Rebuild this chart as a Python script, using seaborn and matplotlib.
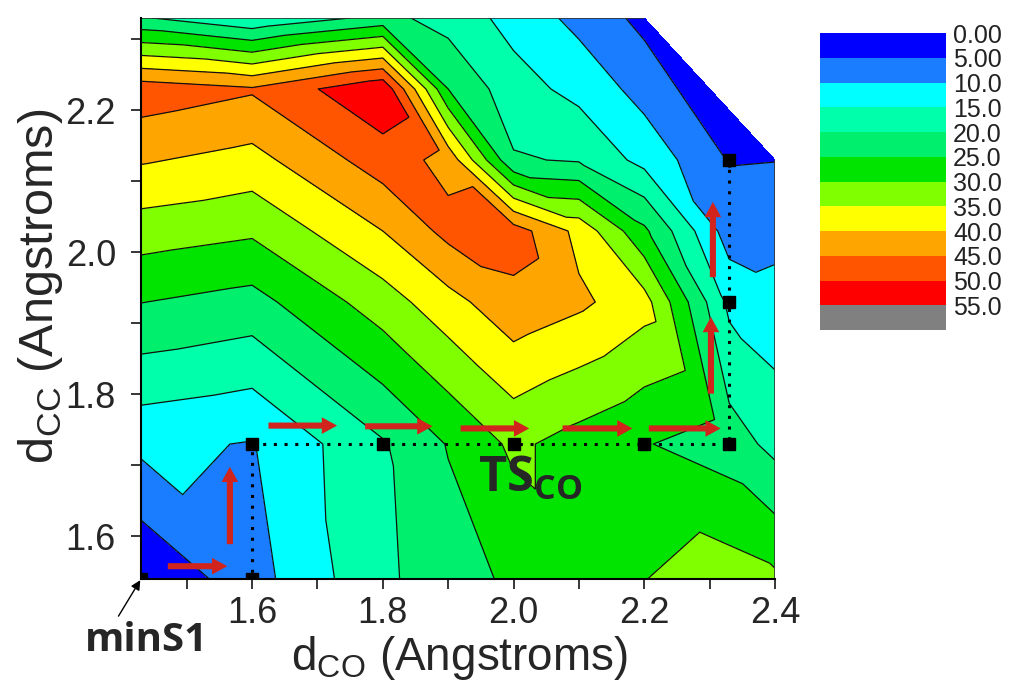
import numpy as np
import matplotlib
matplotlib.use("Agg")
import matplotlib.pyplot as plt
import matplotlib.tri as mtri
from matplotlib.patches import FancyArrowPatch
from matplotlib.collections import LineCollection
from matplotlib.ticker import MultipleLocator, FormatStrFormatter
import seaborn as sns

# scan grid (Angstroms)
d_co = [1.43, 1.6, 1.8, 1.9, 2.0, 2.1, 2.2, 2.33, 2.4]
d_cc = [1.54, 1.73, 1.93, 2.03, 2.13, 2.23, 2.33]

# relative energy, one row per d_cc value (bottom to top), nan = not computed
energy = [
    [0.2, 8.0, 19.1, 22.6, 26.0, 28.0, 29.9, 32.5, 31.0],
    [11.2, 9.7, 19.5, 25.3, 31.0, 28.0, 25.3, 22.5, 18.5],
    [25.1, 23.2, 32.6, 38.2, 43.5, 41.0, 37.0, 13.8, 11.8],
    [32.5, 30.8, 40.0, 46.5, 47.5, 38.5, 26.0, 7.5, 8.4],
    [40.5, 38.3, 47.5, 43.5, 20.5, 19.5, 13.4, 4.7, 4.9],
    [48.0, 45.6, 54.3, 25.0, 17.0, 13.5, 8.1, np.nan, np.nan],
    [20.5, 15.5, 21.5, 18.0, 13.3, 8.5, 3.6, np.nan, np.nan],
]

levels = [0, 5, 10, 15, 20, 25, 30, 35, 40, 45, 50, 55, 60]
band_colors = ["#0000ff", "#1a7cff", "#00ffff", "#00ffaa", "#00f06e", "#00e400",
               "#80ff00", "#ffff00", "#ffa500", "#ff5500", "#ff0000", "#808080"]

# reaction path
path_co = [1.43, 1.6, 1.6, 1.8, 2.0, 2.2, 2.33, 2.33, 2.33]
path_cc = [1.54, 1.54, 1.73, 1.73, 1.73, 1.73, 1.73, 1.93, 2.13]

# red arrows along the path: (start_co, start_cc, end_co, end_cc)
arrows = [
    (1.471, 1.558, 1.562, 1.558),
    (1.566, 1.589, 1.566, 1.698),
    (1.625, 1.756, 1.730, 1.756),
    (1.773, 1.755, 1.876, 1.755),
    (1.919, 1.752, 2.024, 1.752),
    (2.075, 1.752, 2.182, 1.752),
    (2.207, 1.752, 2.317, 1.752),
    (2.302, 1.801, 2.302, 1.909),
    (2.305, 1.965, 2.305, 2.071),
]

sns.set_style("ticks")
plt.rcParams["font.family"] = ["Liberation Sans", "DejaVu Sans"]
plt.rcParams["mathtext.fontset"] = "custom"
plt.rcParams["mathtext.rm"] = "Liberation Sans"
plt.rcParams["mathtext.bf"] = "Open Sans:bold"

X, Y = np.meshgrid(d_co, d_cc)
Z = np.array(energy)
x, y, z = X.ravel(), Y.ravel(), Z.ravel()
nx, ny = len(d_co), len(d_cc)


def idx(i, j):
    return j * nx + i


tris = []
for j in range(ny - 1):
    for i in range(nx - 1):
        bl, br, tl, tr = idx(i, j), idx(i + 1, j), idx(i, j + 1), idx(i + 1, j + 1)
        ok = [np.isfinite(z[k]) for k in (bl, br, tl, tr)]
        if all(ok):
            tris += [[bl, br, tl], [br, tr, tl]]
        elif ok[0] and ok[1] and ok[2]:
            tris.append([bl, br, tl])
# close the cut-off corner (convex hull)
tris.append([idx(6, 6), idx(6, 5), idx(7, 4)])
tris.append([idx(6, 6), idx(7, 4), idx(8, 4)])
triang = mtri.Triangulation(x, y, np.array(tris))

fig = plt.figure(figsize=(10.1, 6.91), dpi=100)
ax = fig.add_axes([0.1396, 0.1621, 0.6277, 0.8119])

cs = ax.tricontourf(triang, z, levels=levels, colors=band_colors)
ax.tricontour(triang, z, levels=levels[1:-1], colors="#111111", linewidths=0.9)

# outline of the computed region (straight sides only)
segs = []
for t, nb in zip(triang.triangles, triang.neighbors):
    for k in range(3):
        if nb[k] == -1:
            a, b = t[k], t[(k + 1) % 3]
            if x[a] == x[b] or y[a] == y[b]:
                segs.append([(x[a], y[a]), (x[b], y[b])])
ax.add_collection(LineCollection(segs, colors="#333333", linewidths=1.2))

ax.plot(path_co, path_cc, color="black", lw=2.2, linestyle=(0, (1, 2.5)))
ax.plot(path_co, path_cc, linestyle="none", marker="s", ms=9, color="black")

for x0, y0, x1, y1 in arrows:
    ax.add_patch(FancyArrowPatch((x0, y0), (x1, y1),
                                 arrowstyle="simple,head_length=0.55,head_width=0.6,tail_width=0.22",
                                 mutation_scale=20, color="#d0241c", lw=0,
                                 shrinkA=0, shrinkB=0, zorder=5))

ax.text(1.945, 1.663, r"TS$_{\mathbf{CO}}$", fontsize=35, fontweight="bold",
        family="Open Sans", ha="left", va="baseline", zorder=6)

ax.annotate("minS1", xy=(d_co[0], d_cc[0]), xytext=(4, -44), textcoords="offset points",
            fontsize=29, fontweight="bold", family="Open Sans", ha="center", va="center",
            annotation_clip=False,
            arrowprops=dict(arrowstyle="-|>", color="black", lw=1, relpos=(0.25, 1.0),
                            shrinkA=1, shrinkB=1, mutation_scale=14))

ax.set_xlim(min(d_co), max(d_co))
ax.set_ylim(min(d_cc), max(d_cc))
ax.xaxis.set_minor_locator(MultipleLocator(0.1))
ax.yaxis.set_minor_locator(MultipleLocator(0.1))
ax.set_xticks([1.6, 1.8, 2.0, 2.2, 2.4])
ax.set_yticks([1.6, 1.8, 2.0, 2.2])
ax.xaxis.set_major_formatter(FormatStrFormatter("%.1f"))
ax.yaxis.set_major_formatter(FormatStrFormatter("%.1f"))
ax.tick_params(which="both", direction="out", length=7, width=1.3, labelsize=26)
ax.tick_params(axis="x", pad=5)
ax.tick_params(axis="y", pad=11)
for s in ["top", "right"]:
    ax.spines[s].set_visible(False)
for s in ["left", "bottom"]:
    ax.spines[s].set_linewidth(1.5)
    ax.spines[s].set_color("black")

ax.set_xlabel(r"d$_{\mathrm{CO}}$ (Angstroms)", fontsize=33)
ax.set_ylabel(r"d$_{\mathrm{CC}}$ (Angstroms)", fontsize=35)
ax.xaxis.set_label_coords(0.503, -0.098)
ax.yaxis.set_label_coords(-0.12, 0.522)

cax = fig.add_axes([0.8119, 0.5224, 0.1248, 0.4298])
cb = fig.colorbar(cs, cax=cax, ticks=levels[:-1])
cax.invert_yaxis()
cb.outline.set_visible(False)
cb.set_ticklabels([f"{v:.2f}" if v < 10 else f"{v:.1f}" for v in levels[:-1]])
cax.tick_params(length=0, labelsize=18, pad=5, labelcolor="#222222")

fig.savefig("out.png", dpi=100)
